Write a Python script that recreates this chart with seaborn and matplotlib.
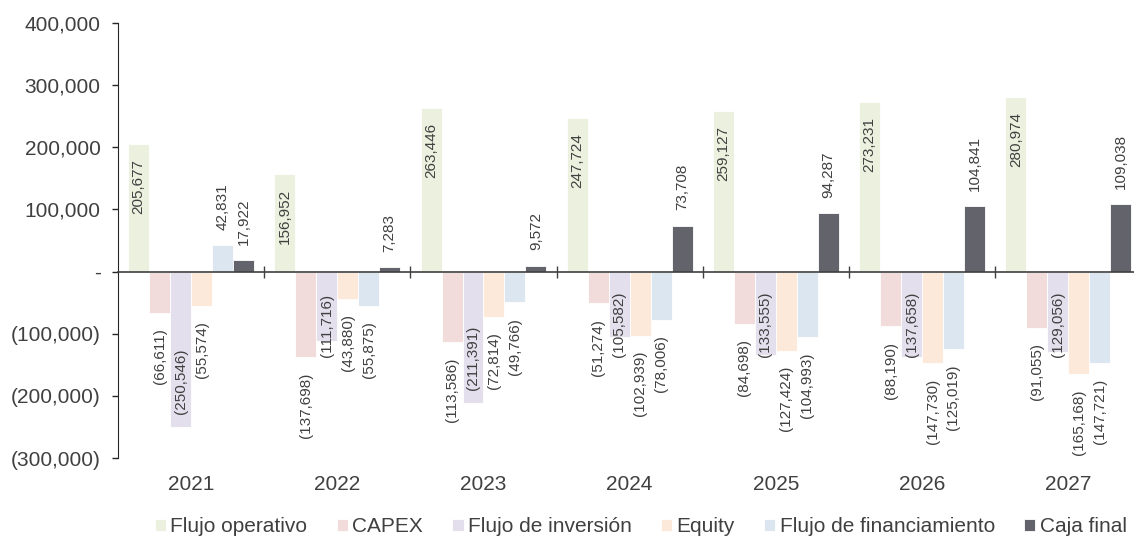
import numpy as np
import pandas as pd
import matplotlib
matplotlib.use("Agg")
import matplotlib.pyplot as plt
import seaborn as sns
from matplotlib.ticker import FuncFormatter, FixedLocator

years = ["2021", "2022", "2023", "2024", "2025", "2026", "2027"]
flujo_operativo = [205677, 156952, 263446, 247724, 259127, 273231, 280974]
capex = [-66611, -137698, -113586, -51274, -84698, -88190, -91055]
flujo_inversion = [-250546, -111716, -211391, -105582, -133555, -137658, -129056]
equity = [-55574, -43880, -72814, -102939, -127424, -147730, -165168]
flujo_financiamiento = [42831, -55875, -49766, -78006, -104993, -125019, -147721]
caja_final = [17922, 7283, 9572, 73708, 94287, 104841, 109038]

series_names = ["Flujo operativo", "CAPEX", "Flujo de inversión", "Equity",
                "Flujo de financiamiento", "Caja final"]
series_values = [flujo_operativo, capex, flujo_inversion, equity,
                 flujo_financiamiento, caja_final]
colors = ["#EBF1DE", "#F2DCDB", "#E4DFEC", "#FDE9D9", "#DCE6F1", "#63636B"]

rows = []
for name, vals in zip(series_names, series_values):
    for y, v in zip(years, vals):
        rows.append({"year": y, "serie": name, "valor": v})
df = pd.DataFrame(rows)

sns.set_style("white")
plt.rcParams["font.family"] = ["Liberation Sans", "DejaVu Sans"]
TXT = "#404040"

fig = plt.figure(figsize=(11.34, 5.41), dpi=100)
ax = fig.add_axes([118 / 1134, 1 - 458 / 541, 1 - 118 / 1134, (458 - 23) / 541])

sns.barplot(data=df, x="year", y="valor", hue="serie", order=years,
            hue_order=series_names, palette=colors, width=0.86, saturation=1,
            edgecolor="white", linewidth=0.6, ax=ax, errorbar=None)

ax.set_ylim(-300000, 400000)
ax.set_xlim(-0.5, 6.45)


def yfmt(v, pos):
    if abs(v) < 1e-6:
        return "-"
    if v < 0:
        return "({:,.0f})".format(-v)
    return "{:,.0f}".format(v)


ax.yaxis.set_major_locator(FixedLocator(np.arange(-300000, 400001, 100000)))
ax.yaxis.set_major_formatter(FuncFormatter(yfmt))
ax.tick_params(axis="y", left=True, direction="out", length=4.5, width=1,
               colors="#262626", labelcolor=TXT, labelsize=15, pad=8)

# x axis: spine at zero with boundary ticks, year labels at bottom
ax.spines["bottom"].set_position(("data", 0))
ax.spines["bottom"].set_color("#404040")
ax.spines["bottom"].set_linewidth(1.2)
ax.xaxis.set_major_locator(FixedLocator(np.arange(0.5, 7, 1.0)))
ax.tick_params(axis="x", bottom=True, direction="inout", length=9, width=1,
               colors="#404040", labelbottom=False)
ax.spines["top"].set_visible(False)
ax.spines["right"].set_visible(False)
ax.spines["left"].set_color("#262626")
ax.set_xlabel("")
ax.set_ylabel("")

sec = ax.secondary_xaxis("bottom")
sec.set_xticks(range(len(years)))
sec.set_xticklabels(years)
sec.tick_params(bottom=True, length=0, labelsize=15, labelcolor=TXT, pad=12)
sec.spines["bottom"].set_visible(False)

# data labels
def lab(v):
    return "({:,.0f})".format(-v) if v < 0 else "{:,.0f}".format(v)

for name, cont in zip(series_names, ax.containers):
    for bar in cont:
        h = bar.get_height()
        x = bar.get_x() + bar.get_width() / 2
        if name == "Flujo operativo":
            ax.annotate(lab(h), (x, h), xytext=(0, -11), textcoords="offset points",
                        rotation=90, ha="center", va="top", fontsize=11, color=TXT)
        elif name == "Flujo de inversión":
            yy = min(h + 21000, -137000)
            ax.annotate(lab(h), (x, yy), rotation=90, ha="center", va="bottom",
                        fontsize=11, color=TXT)
        elif h >= 0:
            ax.annotate(lab(h), (x, h), xytext=(0, 11), textcoords="offset points",
                        rotation=90, ha="center", va="bottom", fontsize=11, color=TXT)
        else:
            ax.annotate(lab(h), (x, h), xytext=(0, -11), textcoords="offset points",
                        rotation=90, ha="center", va="top", fontsize=11, color=TXT)

handles, labels = ax.get_legend_handles_labels()
ax.get_legend().remove()
fig.legend(handles, labels, loc="center", bbox_to_anchor=(0.565, 0.026), ncol=6,
           frameon=False, fontsize=15, handlelength=0.55, handleheight=0.55,
           handletextpad=0.2, columnspacing=1.4, labelcolor=TXT)

fig.savefig("out.png", dpi=100)
